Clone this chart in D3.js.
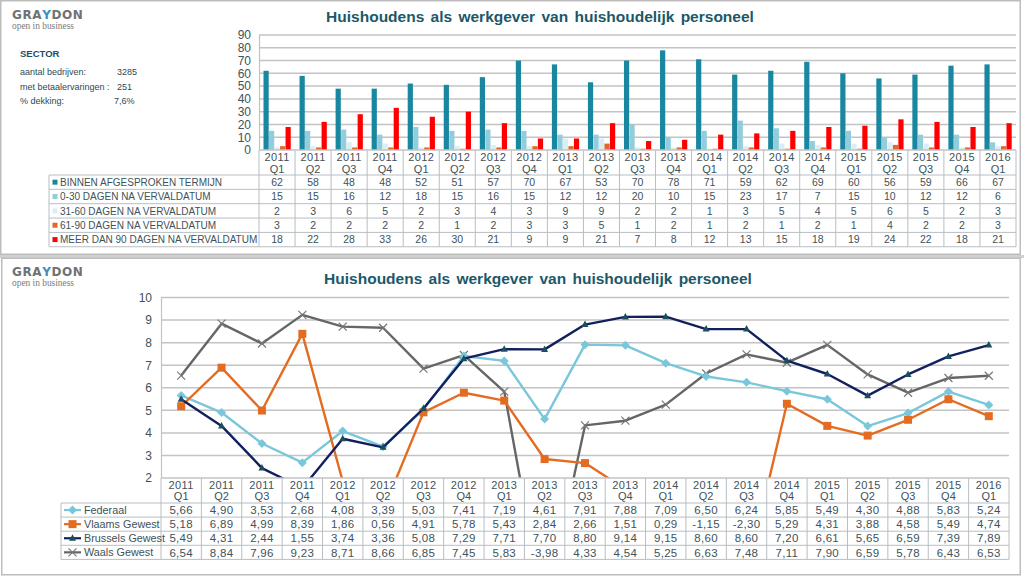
<!DOCTYPE html>
<html><head><meta charset="utf-8">
<script src="https://cdn.jsdelivr.net/npm/d3@7"></script>
<style>
html,body{margin:0;padding:0;background:#fff;}
svg{display:block;font-family:"Liberation Sans",Arial,sans-serif;}
</style></head>
<body>
<svg id="c" width="1024" height="576"></svg>
<script>
// ---------- data ----------
const years = ["2011","2011","2011","2011","2012","2012","2012","2012","2013","2013","2013","2013","2014","2014","2014","2014","2015","2015","2015","2015","2016"];
const quarters = ["Q1","Q2","Q3","Q4","Q1","Q2","Q3","Q4","Q1","Q2","Q3","Q4","Q1","Q2","Q3","Q4","Q1","Q2","Q3","Q4","Q1"];
const barSeriesNames = ["BINNEN AFGESPROKEN TERMIJN","0-30 DAGEN NA VERVALDATUM","31-60 DAGEN NA VERVALDATUM","61-90 DAGEN NA VERVALDATUM","MEER DAN 90 DAGEN NA VERVALDATUM"];
const binnen = [62,58,48,48,52,51,57,70,67,53,70,78,71,59,62,69,60,56,59,66,67];
const d0_30 = [15,15,16,12,18,15,16,15,12,12,20,10,15,23,17,7,15,10,12,12,6];
const d31_60 = [2,3,6,5,2,3,4,3,9,9,2,2,1,3,5,4,5,6,5,2,3];
const d61_90 = [3,2,2,2,2,1,2,3,3,5,1,2,1,2,1,2,1,4,2,2,3];
const meer90 = [18,22,28,33,26,30,21,9,9,21,7,8,12,13,15,18,19,24,22,18,21];
const barTicks = [0,10,20,30,40,50,60,70,80,90];

const lineSeriesNames = ["Federaal","Vlaams Gewest","Brussels Gewest","Waals Gewest"];
const federaal = [5.66,4.90,3.53,2.68,4.08,3.39,5.03,7.41,7.19,4.61,7.91,7.88,7.09,6.50,6.24,5.85,5.49,4.30,4.88,5.83,5.24];
const vlaams = [5.18,6.89,4.99,8.39,1.86,0.56,4.91,5.78,5.43,2.84,2.66,1.51,0.29,-1.15,-2.30,5.29,4.31,3.88,4.58,5.49,4.74];
const brussels = [5.49,4.31,2.44,1.55,3.74,3.36,5.08,7.29,7.71,7.70,8.80,9.14,9.15,8.60,8.60,7.20,6.61,5.65,6.59,7.39,7.89];
const waals = [6.54,8.84,7.96,9.23,8.71,8.66,6.85,7.45,5.83,-3.98,4.33,4.54,5.25,6.63,7.48,7.11,7.90,6.59,5.78,6.43,6.53];
const lineTicks = [2,3,4,5,6,7,8,9,10];

const title = "Huishoudens als werkgever van huishoudelijk personeel";
const sectorLabels = ["aantal bedrijven:","met betaalervaringen :","% dekking:"];
const sectorValues = ["3285","251","7,6%"];
const logoParts = ["GRA","Y","DON"];

// ---------- styles ----------
const barColors = ["#1a87a0","#92cddc","#dbeef3","#e0692a","#ff0000"];
const lineColors = ["#7ac7db","#e46c22","#13205e","#666666"];
const markerColors = ["#7ac7db","#e46c22","#1c4f5c","#777777"];
const textCol = "#40525a";
const titleCol = "#1b5869";
const gridCol = "#c3c3c3";
const tableCol = "#b8bec2";

const svg = d3.select("#c");
const cats = years.map((y,i)=>i);

// panel borders
svg.append("rect").attr("x",0).attr("y",255).attr("width",1024).attr("height",3).attr("fill","#d0d0d0");
svg.append("rect").attr("x",0.75).attr("y",0.75).attr("width",1019.5).attr("height",253.5).attr("fill","#fff").attr("stroke","#bdbdbd").attr("stroke-width",1.5);
svg.append("rect").attr("x",1.75).attr("y",258.25).attr("width",1018.5).attr("height",316.5).attr("fill","#fff").attr("stroke","#bdbdbd").attr("stroke-width",1.5);

function logo(y){
  const g = svg.append("g");
  let x = 12;
  logoParts.forEach((p,k)=>{
    const t = g.append("text").attr("x",x).attr("y",y).attr("font-size",12).attr("font-weight","bold")
      .attr("fill",k===1?"#3a8fc4":"#707274").attr("letter-spacing",0.6)
      .attr("font-family","'DejaVu Sans',sans-serif").text(p);
    x += t.node().getComputedTextLength() + 0.6*p.length*0 ;
  });
  g.append("text").attr("x",12).attr("y",y+10).attr("font-size",10).attr("fill","#7a7a7a").attr("font-family","'Liberation Serif',serif").attr("textLength",62).attr("lengthAdjust","spacingAndGlyphs").text("open in business");
}
logo(19);
logo(276);

// sector block
svg.append("text").attr("x",20).attr("y",57).attr("font-size",9.5).attr("font-weight","bold").attr("fill","#1f4e5f").text("SECTOR");
sectorLabels.forEach((s,i)=>{
  const y = [75,90,104][i];
  svg.append("text").attr("x",20).attr("y",y).attr("font-size",9).attr("fill","#2c4a55").text(s);
  svg.append("text").attr("x",[117,117,114][i]).attr("y",y).attr("font-size",9).attr("fill","#2c4a55").text(sectorValues[i]);
});

// titles
svg.append("text").attr("x",540).attr("y",22).attr("text-anchor","middle").attr("font-size",15.5).attr("font-weight","bold").attr("fill",titleCol).attr("word-spacing",2).text(title);
svg.append("text").attr("x",538).attr("y",284).attr("text-anchor","middle").attr("font-size",15.5).attr("font-weight","bold").attr("fill",titleCol).attr("word-spacing",2).text(title);

function fmt(v){return d3.format(".2f")(v).replace(".",",").replace("−","-");}

// ================= BAR CHART =================
const xB = d3.scaleBand().domain(cats).range([259,1016]);
const yB = d3.scaleLinear().domain([0,90]).range([150,35]);
const xInner = d3.scaleBand().domain(d3.range(5)).range([4.5, xB.bandwidth()-4]);
const barData = [binnen,d0_30,d31_60,d61_90,meer90];

const gB = svg.append("g");
gB.selectAll("line.grid").data(barTicks.filter(t=>t>0)).join("line")
  .attr("x1",259).attr("x2",1016).attr("y1",d=>yB(d)).attr("y2",d=>yB(d))
  .attr("stroke",gridCol).attr("stroke-width",1.5);
const axB = gB.append("g").attr("transform","translate(258,0)")
  .call(d3.axisLeft(yB).tickValues(barTicks).tickSize(0).tickPadding(7));
axB.select(".domain").remove();
axB.selectAll("text").attr("font-size",12).attr("fill",textCol).attr("font-family","'Liberation Sans',Arial,sans-serif");
gB.append("line").attr("x1",259.5).attr("x2",259.5).attr("y1",yB(90)).attr("y2",150).attr("stroke",gridCol).attr("stroke-width",1.2);

barData.forEach((arr,s)=>{
  gB.append("g").selectAll("rect").data(arr).join("rect")
    .attr("x",(d,i)=>xB(i)+xInner(s)).attr("width",xInner.bandwidth()-0.3)
    .attr("y",d=>yB(d)).attr("height",d=>yB(0)-yB(d)).attr("fill",barColors[s]);
});

// bar table
const rowH = 14.35, tTop = 175, tLeft = 49;
const tBot = tTop + rowH*5;
const tbl = svg.append("g");
cats.concat([cats.length]).forEach(i=>{
  const x = i<cats.length ? xB(i) : xB.range()[1];
  tbl.append("line").attr("x1",x).attr("x2",x).attr("y1",150).attr("y2",tBot).attr("stroke",tableCol).attr("stroke-width",1);
});
tbl.append("line").attr("x1",tLeft).attr("x2",tLeft).attr("y1",tTop).attr("y2",tBot).attr("stroke",tableCol);
d3.range(6).forEach(r=>{
  const y = tTop + r*rowH;
  tbl.append("line").attr("x1",tLeft).attr("x2",1016).attr("y1",y).attr("y2",y).attr("stroke",tableCol);
});
tbl.append("line").attr("x1",259).attr("x2",1016).attr("y1",150).attr("y2",150).attr("stroke",gridCol).attr("stroke-width",1.5);
cats.forEach(i=>{
  const cx = xB(i)+xB.bandwidth()/2;
  tbl.append("text").attr("x",cx).attr("y",161).attr("text-anchor","middle").attr("font-size",11).attr("fill",textCol).attr("letter-spacing",0.4).text(years[i]);
  tbl.append("text").attr("x",cx).attr("y",172.5).attr("text-anchor","middle").attr("font-size",11).attr("fill",textCol).text(quarters[i]);
});
barSeriesNames.forEach((n,s)=>{
  const cy = tTop + rowH*s + rowH/2;
  tbl.append("rect").attr("x",52.5).attr("y",cy-2.5).attr("width",5).attr("height",5).attr("fill",barColors[s]);
  tbl.append("text").attr("x",60).attr("y",cy+3.8).attr("font-size",10).attr("fill",textCol).text(n);
  barData[s].forEach((v,i)=>{
    tbl.append("text").attr("x",xB(i)+xB.bandwidth()/2).attr("y",cy+3.8).attr("text-anchor","middle").attr("font-size",10.5).attr("fill",textCol).text(v);
  });
});

// ================= LINE CHART =================
const xL = d3.scaleBand().domain(cats).range([161,1009]);
const yL = d3.scaleLinear().domain([2,10]).range([478,297.5]);
const lineData = [federaal,vlaams,brussels,waals];
const gL = svg.append("g");
gL.selectAll("line.grid").data(lineTicks.filter(t=>t>2)).join("line")
  .attr("x1",161).attr("x2",1009).attr("y1",d=>yL(d)).attr("y2",d=>yL(d))
  .attr("stroke",gridCol).attr("stroke-width",1.5);
const axL = gL.append("g").attr("transform","translate(159,0)")
  .call(d3.axisLeft(yL).tickValues(lineTicks).tickSize(0).tickPadding(7));
axL.select(".domain").remove();
axL.selectAll("text").attr("font-size",12).attr("fill",textCol).attr("font-family","'Liberation Sans',Arial,sans-serif");
gL.append("line").attr("x1",161.5).attr("x2",161.5).attr("y1",yL(10)).attr("y2",478).attr("stroke",gridCol).attr("stroke-width",1.2);

svg.append("clipPath").attr("id","clipL").append("rect").attr("x",161).attr("y",yL(10)-8).attr("width",850).attr("height",478-yL(10)+8);
const plot = gL.append("g").attr("clip-path","url(#clipL)");
const lineGen = d3.line().x((d,i)=>xL(i)+xL.bandwidth()/2).y(d=>yL(d));

function marker(g, type, x, y, s){
  const col = markerColors[s];
  if(type===0){
    g.append("path").attr("d",`M${x},${y-4.5}L${x+4.5},${y}L${x},${y+4.5}L${x-4.5},${y}Z`).attr("fill",col);
  } else if(type===1){
    g.append("rect").attr("x",x-4).attr("y",y-4).attr("width",8).attr("height",8).attr("fill",col);
  } else if(type===2){
    g.append("path").attr("d",`M${x},${y-4}L${x+3.5},${y+2.5}L${x-3.5},${y+2.5}Z`).attr("fill",col);
  } else {
    g.append("path").attr("d",`M${x-4},${y-4}L${x+4},${y+4}M${x-4},${y+4}L${x+4},${y-4}`).attr("stroke",col).attr("stroke-width",1.2).attr("fill","none");
  }
}
[3,0,1,2].forEach(s=>{
  plot.append("path").datum(lineData[s]).attr("d",lineGen).attr("fill","none")
    .attr("stroke",lineColors[s]).attr("stroke-width",2.4).attr("stroke-linejoin","round");
  lineData[s].forEach((v,i)=>{
    if(v>=2 && v<=10) marker(plot, s, xL(i)+xL.bandwidth()/2, yL(v), s);
  });
});

// line table
const lRowH = 14.1, lTop = 503, lLeft = 61;
const lBot = lTop + lRowH*4;
const lt = svg.append("g");
cats.concat([cats.length]).forEach(i=>{
  const x = i<cats.length ? xL(i) : xL.range()[1];
  lt.append("line").attr("x1",x).attr("x2",x).attr("y1",478).attr("y2",lBot).attr("stroke",tableCol);
});
lt.append("line").attr("x1",lLeft).attr("x2",lLeft).attr("y1",lTop).attr("y2",lBot).attr("stroke",tableCol);
d3.range(5).forEach(r=>{
  const y = lTop + r*lRowH;
  lt.append("line").attr("x1",lLeft).attr("x2",1009).attr("y1",y).attr("y2",y).attr("stroke",tableCol);
});
lt.append("line").attr("x1",161).attr("x2",1009).attr("y1",478).attr("y2",478).attr("stroke",gridCol).attr("stroke-width",1.5);
cats.forEach(i=>{
  const cx = xL(i)+xL.bandwidth()/2;
  lt.append("text").attr("x",cx).attr("y",489).attr("text-anchor","middle").attr("font-size",11).attr("fill",textCol).attr("letter-spacing",0.4).text(years[i]);
  lt.append("text").attr("x",cx).attr("y",500).attr("text-anchor","middle").attr("font-size",11).attr("fill",textCol).text(quarters[i]);
});
lineSeriesNames.forEach((n,s)=>{
  const cy = lTop + lRowH*s + lRowH/2;
  lt.append("line").attr("x1",64).attr("x2",81).attr("y1",cy).attr("y2",cy).attr("stroke",lineColors[s]).attr("stroke-width",2.2);
  marker(lt, s, 72.5, cy, s);
  lt.append("text").attr("x",84).attr("y",cy+4).attr("font-size",10.8).attr("fill",textCol).text(n);
  lineData[s].forEach((v,i)=>{
    lt.append("text").attr("x",xL(i)+xL.bandwidth()/2).attr("y",cy+4.2).attr("text-anchor","middle").attr("font-size",11.5).attr("letter-spacing",0.3).attr("fill",textCol).text(fmt(v));
  });
});
</script>
</body></html>
